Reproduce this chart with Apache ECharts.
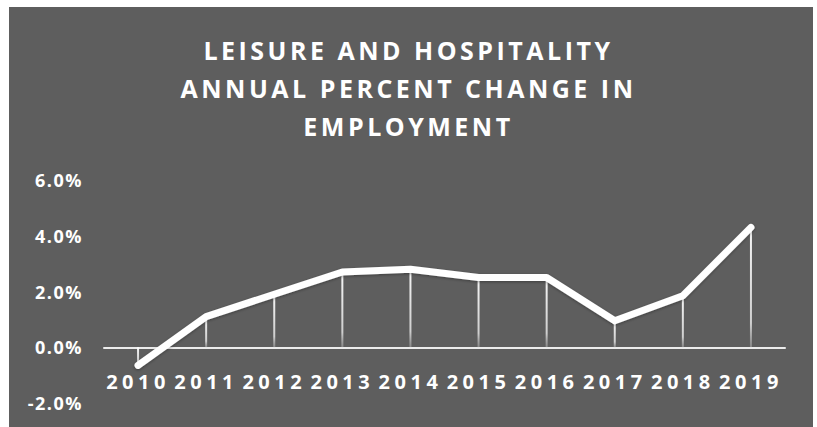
<!DOCTYPE html>
<html>
<head>
<meta charset="utf-8">
<script src="https://cdn.jsdelivr.net/npm/echarts@6/dist/echarts.min.js"></script>
<style>
html,body{margin:0;padding:0;background:#fff;}
#chart{width:817px;height:427px;}
#chart text[style*="25px"]{letter-spacing:3.5px;}
#chart text[style*="20px"]{letter-spacing:4.5px;}
#chart text[style*="18px"]{letter-spacing:1.5px;}
</style>
</head>
<body>
<div id="chart"></div>
<script>
const titleLines = ['LEISURE AND HOSPITALITY', 'ANNUAL PERCENT CHANGE IN', 'EMPLOYMENT'];
const years = ['2010', '2011', '2012', '2013', '2014', '2015', '2016', '2017', '2018', '2019'];
const pctChange = [-0.65, 1.1, 1.9, 2.7, 2.8, 2.5, 2.5, 0.95, 1.85, 4.3];
const yTicks = { min: -2, max: 6, interval: 2 };

const chart = echarts.init(document.getElementById('chart'), null, { renderer: 'svg' });
chart.setOption({
  backgroundColor: '#ffffff',
  animation: false,
  graphic: [{
    type: 'rect', z: -10, silent: true,
    shape: { x: 9, y: 7, width: 804, height: 420 },
    style: { fill: '#5e5e5e' }
  }],
  title: {
    text: titleLines.join('\n'),
    left: 'center',
    top: 26,
    textStyle: {
      color: '#ffffff',
      fontFamily: 'Open Sans',
      fontWeight: 'bold',
      fontSize: 25,
      lineHeight: 38
    }
  },
  grid: { left: 104, right: 32, top: 180, bottom: 24, containLabel: false, outerBoundsMode: 'none' },
  xAxis: {
    type: 'category',
    data: years,
    axisLine: { onZero: true, lineStyle: { color: '#ececec', width: 2 } },
    axisTick: { show: false },
    axisLabel: {
      interval: 0,
      color: '#ffffff',
      fontFamily: 'Open Sans',
      fontWeight: 'bold',
      fontSize: 20,
      margin: -32
    }
  },
  yAxis: {
    type: 'value',
    min: yTicks.min,
    max: yTicks.max,
    interval: yTicks.interval,
    splitLine: { show: false },
    axisLine: { show: false },
    axisTick: { show: false },
    axisLabel: {
      color: '#ffffff',
      fontFamily: 'Open Sans',
      fontWeight: 'bold',
      fontSize: 18,
      margin: 21,
      formatter: v => v.toFixed(1) + '%'
    }
  },
  series: [
    {
      type: 'bar',
      data: pctChange,
      barWidth: 2,
      silent: true,
      itemStyle: {
        color: new echarts.graphic.LinearGradient(0, 0, 0, 1, [
          { offset: 0, color: 'rgba(255,255,255,0.95)' },
          { offset: 0.8, color: 'rgba(235,235,235,0.8)' },
          { offset: 1, color: 'rgba(200,200,200,0.4)' }
        ])
      },
      z: 1
    },
    {
      type: 'line',
      data: pctChange,
      symbol: 'none',
      lineStyle: {
        color: '#ffffff',
        width: 7,
        cap: 'round',
        join: 'round',
        shadowColor: 'rgba(0,0,0,0.35)',
        shadowBlur: 3,
        shadowOffsetY: 1
      },
      z: 3
    }
  ]
});
</script>
</body>
</html>
